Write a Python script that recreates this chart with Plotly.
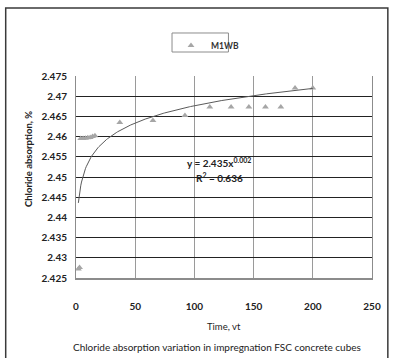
import numpy as np
import plotly.graph_objects as go

# Measured chloride absorption (%) against time
time_vt = [2, 3, 4, 6, 8, 10, 12, 14, 16, 37, 65, 92, 113, 131, 146, 160, 173, 185, 200]
absorption = [2.4272, 2.4276, 2.4595, 2.4595, 2.4596, 2.4597, 2.4598, 2.4600, 2.4602,
              2.4635, 2.4640, 2.4652, 2.4673, 2.4673, 2.4673, 2.4673, 2.4673, 2.4720, 2.4720]
series_name = "M1WB"
x_ticks = [0, 50, 100, 150, 200, 250]
y_ticks = [2.425, 2.43, 2.435, 2.44, 2.445, 2.45, 2.455, 2.46, 2.465, 2.47, 2.475]
equation_text = "y = 2.435x<sup>0.002</sup>"
r2_text = "R<sup>2</sup> = 0.636"
x_title = "Time, vt"
y_title = "Chloride absorption, %"
caption = "Chloride absorption variation in impregnation FSC concrete cubes"

# Power-law trend (least squares in log-log space), drawn across the data range
tx = np.array(time_vt, dtype=float)
ty = np.array(absorption, dtype=float)
b, ln_a = np.polyfit(np.log(tx), np.log(ty), 1)
fit_x = np.linspace(tx.min(), tx.max(), 300)
fit_y = np.exp(ln_a) * fit_x ** b

FONT = "Lato"

fig = go.Figure()
fig.add_trace(go.Scatter(
    x=time_vt, y=absorption, mode="markers", name=series_name,
    marker=dict(symbol="triangle-up", size=6, color="#a6a6a6"),
))
fig.add_trace(go.Scatter(
    x=fit_x, y=fit_y, mode="lines", showlegend=False,
    line=dict(color="#5a5a5a", width=1),
))

fig.update_layout(
    width=393, height=358,
    margin=dict(l=76, r=18, t=76, b=80),
    paper_bgcolor="white", plot_bgcolor="white",
    font=dict(family=FONT, color="#222222"),
    showlegend=True,
    legend=dict(
        x=0.321, y=1.223, xanchor="left", yanchor="top",
        borderwidth=0, bgcolor="rgba(0,0,0,0)",
        font=dict(size=8.5, family=FONT, color="#333333", weight="bold"),
        itemwidth=30, tracegroupgap=0,
    ),
    xaxis=dict(
        range=[0, 250], tickvals=x_ticks, ticktext=[str(v) for v in x_ticks],
        showgrid=True, gridcolor="#9a9a9a", gridwidth=1,
        showline=True, linecolor="#8c8c8c", linewidth=2,
        ticks="outside", ticklen=18, tickcolor="rgba(0,0,0,0)",
        tickfont=dict(size=10, family=FONT, color="#222222", weight="bold"),
        zeroline=False,
    ),
    yaxis=dict(
        range=[2.425, 2.475], tickvals=y_ticks, ticktext=[f"{v:g}" for v in y_ticks],
        showgrid=True, gridcolor="#222222", gridwidth=1.4,
        showline=True, linecolor="#8c8c8c", linewidth=1, mirror=True,
        ticks="outside", ticklen=6, tickcolor="rgba(0,0,0,0)",
        tickfont=dict(size=10, family=FONT, color="#222222", weight="bold"),
        zeroline=False,
    ),
    shapes=[
        # outer chart frame
        dict(type="rect", xref="paper", yref="paper",
             x0=-0.2375, x1=1.0535, y0=-0.45, y1=1.3366,
             line=dict(color="#3a3a3a", width=1.5), fillcolor="rgba(0,0,0,0)", layer="below"),
        # legend box
        dict(type="rect", xref="paper", yref="paper",
             x0=0.3244, x1=0.515, y0=1.1188, y1=1.2129,
             line=dict(color="#8c8c8c", width=1), fillcolor="rgba(0,0,0,0)", layer="below"),
    ],
    annotations=[
        dict(text=equation_text, x=121, y=2.4537, xref="x", yref="y", showarrow=False,
             font=dict(size=10, family=FONT, color="#222222", weight="bold")),
        dict(text=r2_text, x=121, y=2.4500, xref="x", yref="y", showarrow=False,
             font=dict(size=10, family=FONT, color="#222222", weight="bold")),
        dict(text=x_title, x=0.5, y=-0.242, xref="paper", yref="paper", showarrow=False,
             xanchor="center", yanchor="middle",
             font=dict(size=9.5, family=FONT, color="#222222")),
        dict(text=caption, x=0.475, y=-0.342, xref="paper", yref="paper", showarrow=False,
             xanchor="center", yanchor="middle",
             font=dict(size=10, family=FONT, color="#222222")),
        dict(text=y_title, x=-0.158, y=0.59, xref="paper", yref="paper", showarrow=False,
             textangle=-90, xanchor="center", yanchor="middle",
             font=dict(size=9.5, family=FONT, color="#222222", weight="bold")),
    ],
)

fig.write_html("out.html")
